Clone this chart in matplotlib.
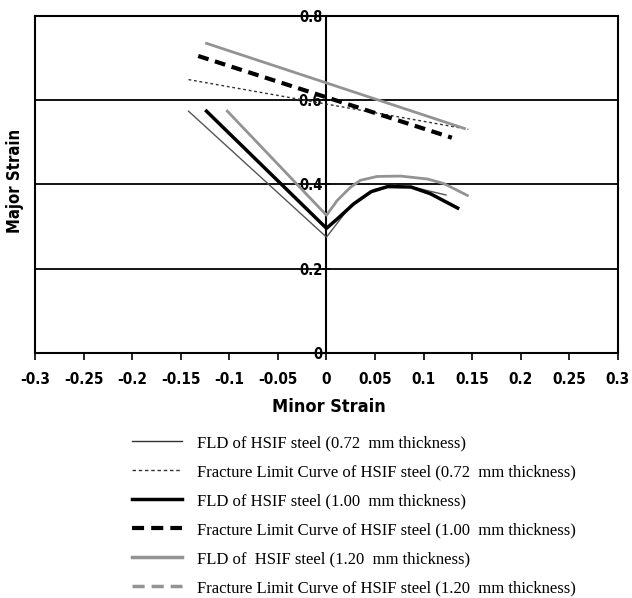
import numpy as np
import matplotlib
matplotlib.use('Agg')
import matplotlib.pyplot as plt
from matplotlib.lines import Line2D

# forming limit curves (left branch straight, right branch curved)
fld072_x = [-0.142, 0.0, 0.025, 0.049, 0.070, 0.094, 0.123]
fld072_y = [0.574, 0.275, 0.350, 0.388, 0.398, 0.391, 0.375]
fld100_x = [-0.1235, 0.0, 0.011, 0.028, 0.046, 0.063, 0.087, 0.107, 0.135]
fld100_y = [0.574, 0.296, 0.318, 0.354, 0.383, 0.395, 0.394, 0.378, 0.344]
fld120_x = [-0.102, 0.0, 0.011, 0.025, 0.035, 0.052, 0.076, 0.104, 0.121, 0.145]
fld120_y = [0.574, 0.327, 0.362, 0.394, 0.410, 0.419, 0.420, 0.413, 0.402, 0.374]

# fracture limit curves
flc072_x = [-0.142, 0.146]
flc072_y = [0.649, 0.531]
flc100_x = [-0.132, 0.129]
flc100_y = [0.705, 0.511]
flc120_x = [-0.1235, 0.142]
flc120_y = [0.735, 0.533]

xticks = [-0.3, -0.25, -0.2, -0.15, -0.1, -0.05, 0, 0.05, 0.1, 0.15, 0.2, 0.25, 0.3]
xlabels = ['-0.3', '-0.25', '-0.2', '-0.15', '-0.1', '-0.05', '0', '0.05', '0.1', '0.15', '0.2', '0.25', '0.3']
yticks = [0, 0.2, 0.4, 0.6, 0.8]
ylabels = ['0', '0.2', '0.4', '0.6', '0.8']

labels = ['FLD of HSIF steel (0.72  mm thickness)',
          'Fracture Limit Curve of HSIF steel (0.72  mm thickness)',
          'FLD of HSIF steel (1.00  mm thickness)',
          'Fracture Limit Curve of HSIF steel (1.00  mm thickness)',
          'FLD of  HSIF steel (1.20  mm thickness)',
          'Fracture Limit Curve of HSIF steel (1.20  mm thickness)']

narrow = dict(family='DejaVu Sans', stretch='condensed', weight='bold')
serif = ['Liberation Serif', 'DejaVu Serif']
grey = '#939393'

fig = plt.figure(figsize=(6.32, 5.98), dpi=100)
ax = fig.add_axes([0.0554, 0.4097, 0.9224, 0.5636])

for y in [0.2, 0.4, 0.6]:
    ax.axhline(y, color='k', lw=1.3, zorder=1)

ax.plot(flc072_x, flc072_y, color='#333333', lw=1.0, ls=(0, (2, 2)), zorder=3)
ax.plot(flc100_x, flc100_y, color='k', lw=3.0, ls=(0, (2.6, 1.6)), zorder=3)
ax.plot(flc120_x, flc120_y, color=grey, lw=2.0, zorder=3)

ax.plot(fld072_x, fld072_y, color='#555555', lw=1.0, zorder=3)
ax.plot(fld100_x, fld100_y, color='k', lw=2.5, zorder=4)
ax.plot(fld120_x, fld120_y, color=grey, lw=2.0, zorder=3)

ax.set_xlim(-0.3, 0.3)
ax.set_ylim(0, 0.8)

# y axis runs through the origin, frame kept around the plot
ax.spines['left'].set_position(('data', 0))
ax.axvline(-0.3, color='k', lw=1.5, clip_on=False)
for s in ['top', 'right', 'bottom', 'left']:
    ax.spines[s].set_linewidth(1.5)

ax.set_xticks(xticks)
ax.set_xticklabels(xlabels, fontsize=11, **narrow)
ax.set_yticks(yticks)
ax.set_yticklabels(ylabels, fontsize=10.5, **narrow)
ax.tick_params(axis='x', direction='out', length=5, width=1.2, pad=9)
ax.tick_params(axis='y', direction='inout', length=6, width=1.2, pad=0)

fig.text(0.521, 1 - 407 / 598, 'Minor Strain', fontsize=13, ha='center', va='center', **narrow)
fig.text(0.024, 1 - 181 / 598, 'Major Strain', fontsize=12, rotation=90,
         ha='center', va='center', **narrow)

handles = [Line2D([], [], color='#333333', lw=1.0),
           Line2D([], [], color='#333333', lw=1.0, ls=(0, (2.5, 2))),
           Line2D([], [], color='k', lw=2.5),
           Line2D([], [], color='k', lw=3.0, ls=(0, (2.9, 1.7))),
           Line2D([], [], color=grey, lw=2.5),
           Line2D([], [], color=grey, lw=2.5, ls=(0, (3.5, 2.0)))]
fig.legend(handles, labels, loc='upper left', bbox_to_anchor=(0.185, 0.2977),
           frameon=False, prop={'family': serif, 'size': 12},
           handlelength=3.0, handletextpad=0.9, labelspacing=0.78)

fig.savefig('out.png', dpi=100)
